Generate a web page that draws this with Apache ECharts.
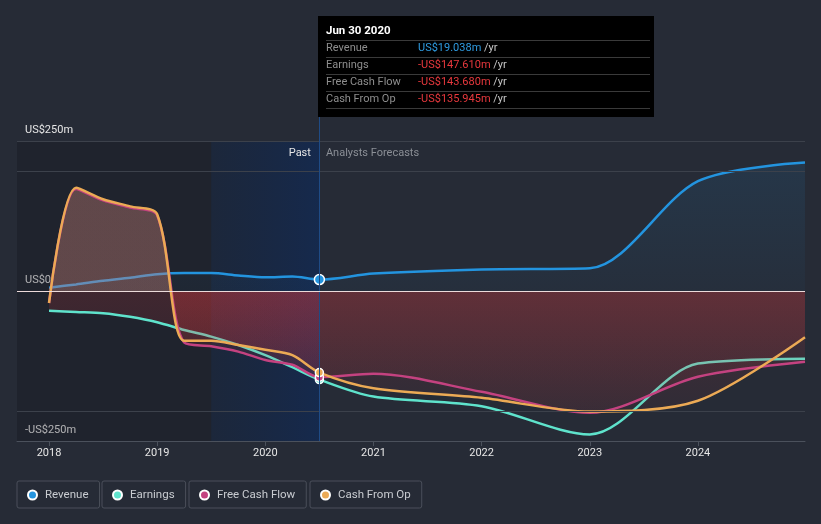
<!DOCTYPE html>
<html><head><meta charset="utf-8">
<script src="https://cdn.jsdelivr.net/npm/echarts@6/dist/echarts.min.js"></script>
<style>html,body{margin:0;padding:0;background:#262b36;}#c{width:821px;height:524px;}</style>
</head><body><div id="c"></div>
<script>
// ---- data (US$ m, decimal years) ----
const dates = [2018, 2018.25, 2018.5, 2018.75, 2019, 2019.25, 2019.5, 2019.75, 2020, 2020.25, 2020.5, 2021, 2022, 2023, 2024, 2024.99];
const revenue = [5.5, 11, 17, 22, 28, 30, 30, 26, 23, 24, 19.038, 29, 36, 38, 183, 214];
const earnings = [-33, -35, -37, -43, -52, -65, -76, -90, -107, -127, -147.61, -176, -192, -239, -121, -113];
const freeCashFlow = [-20, 170, 151, 139, 126, -86, -92, -101, -115, -123, -143.68, -138, -168, -203, -143, -118];
const cashFromOp = [-20, 172, 153, 141, 128, -83, -83, -90, -98, -107, -135.945, -162, -178, -201, -183, -77];
const nowIndex = 10;
const xTickValues = [2018, 2019, 2020, 2021, 2022, 2023, 2024];
const yTickValues = [250, 0, -250];
const yTickLabels = ['US$250m', 'US$0', '-US$250m'];
const gridValues = [250, 200, -200];
const seriesNames = ['Revenue', 'Earnings', 'Free Cash Flow', 'Cash From Op'];
const seriesColors = ['#2394df', '#5fe3cc', '#c44280', '#ecaa55'];
const tipTitle = 'Jun 30 2020';
const tipValues = ['US$19.038m', '-US$147.610m', '-US$143.680m', '-US$135.945m'];
const pastLabel = 'Past';
const forecastLabel = 'Analysts Forecasts';

// ---- layout ----
const xMin = 2017.704, xMax = dates[dates.length - 1];
const yMin = -250, yMax = 291.667;
const gridTopPx = 116, gridBottomPx = 441;
const zeroOff = yMax / (yMax - yMin);
const font = 'Roboto, "Noto Sans", sans-serif';
const G = echarts.graphic.LinearGradient;

function fill(pos, negTop, negBottom) {
  return new G(0, gridTopPx, 0, gridBottomPx, [
    {offset: 0, color: pos}, {offset: zeroOff, color: pos},
    {offset: zeroOff, color: negTop}, {offset: 1, color: negBottom}
  ], true);
}
function pts(vals, n) {
  return vals.slice(0, n === undefined ? vals.length : n).map((v, i) => [dates[i], v]);
}
function lineSeries(idx, vals, extra) {
  return Object.assign({
    name: seriesNames[idx], type: 'line', data: pts(vals), smooth: 0.3,
    symbol: 'circle', showSymbol: true,
    symbolSize: (v, p) => p.dataIndex === nowIndex ? (idx === 0 ? 10 : 8) : 0,
    itemStyle: {color: seriesColors[idx], borderColor: '#ffffff', borderWidth: 1.5},
    lineStyle: {color: seriesColors[idx], width: 2.5},
    silent: true, z: 3
  }, extra || {});
}

const negFill = () => fill('rgba(200,130,120,0.31)', 'rgba(230,58,62,0.24)', 'rgba(230,58,62,0.03)');

const nowX = dates[nowIndex];
const option = {
  backgroundColor: '#262b36',
  animation: false,
  textStyle: {fontFamily: font},
  grid: {left: 17, right: 16, top: gridTopPx, bottom: 524 - gridBottomPx},
  xAxis: {
    type: 'value', min: xMin, max: xMax,
    splitLine: {show: false},
    axisLine: {onZero: false, lineStyle: {color: '#4b515c'}},
    axisTick: {customValues: xTickValues, length: 5, lineStyle: {color: '#4b515c'}},
    axisLabel: {customValues: xTickValues, formatter: v => String(v), color: '#e6e6e6', fontSize: 11, margin: 7, fontFamily: font}
  },
  yAxis: {
    type: 'value', min: yMin, max: yMax,
    splitLine: {show: false}, axisLine: {show: false}, axisTick: {show: false},
    axisLabel: {inside: true, customValues: yTickValues,
      formatter: v => yTickLabels[yTickValues.indexOf(v)],
      color: '#e6e6e6', fontSize: 11, verticalAlign: 'bottom', padding: [0, 0, 5, 0], margin: 8, fontFamily: font}
  },
  legend: seriesNames.map((n, i) => ({
    data: [n], left: [17, 102, 189, 310][i], top: 481,
    icon: 'circle', itemWidth: 9, itemHeight: 9, selectedMode: false,
    padding: [8, 11, 7, 10], borderColor: '#4a4f5a', borderWidth: 1, borderRadius: 2,
    textStyle: {color: '#c9ccd1', fontSize: 11.5, fontFamily: font, padding: [0, 0, 0, 3]}
  })),
  series: [
    {
      type: 'line', data: [[xMin, 0]], symbol: 'none', lineStyle: {width: 0}, silent: true, z: 1,
      markArea: {silent: true, label: {show: false}, data: [
        [{xAxis: xMin, yAxis: 250, itemStyle: {color: 'rgba(10,12,18,0.25)'}}, {xAxis: nowX - 1, yAxis: -250}],
        [{xAxis: nowX - 1, yAxis: 250, itemStyle: {color: new G(0, 0, 1, 0, [
          {offset: 0, color: 'rgba(5,30,70,0.3)'}, {offset: 1, color: 'rgba(5,40,100,0.5)'}])}},
         {xAxis: nowX, yAxis: -250}]
      ]},
      markLine: {silent: true, symbol: ['none', 'none'], label: {show: false},
        lineStyle: {color: '#3c414b', width: 1, type: 'solid'},
        data: gridValues.map(v => ({yAxis: v})).concat([{xAxis: nowX, lineStyle: {color: '#1f4b85', width: 1, type: 'solid'}}])
      },
      markPoint: {silent: true, symbol: 'circle', symbolSize: 1, itemStyle: {color: 'rgba(0,0,0,0)'},
        data: [
          {coord: [nowX, 230], label: {show: true, position: 'left', distance: 8, formatter: pastLabel, color: '#e6e6e6', fontSize: 11, fontFamily: font}},
          {coord: [nowX, 230], label: {show: true, position: 'right', distance: 6, formatter: forecastLabel, color: '#8b8f96', fontSize: 11, fontFamily: font}}
        ]}
    },
    lineSeries(0, revenue, {z: 2, areaStyle: {color: new G(0, 0, 0, 1, [
      {offset: 0, color: 'rgba(35,148,223,0.16)'}, {offset: 1, color: 'rgba(35,148,223,0.05)'}])}}),
    {
      type: 'line', data: pts(earnings, nowIndex + 1), smooth: 0.3, symbol: 'none', silent: true, z: 2,
      lineStyle: {width: 0}, areaStyle: {color: negFill()}
    },
    lineSeries(1, earnings, {z: 2}),
    lineSeries(2, freeCashFlow, {areaStyle: {color: negFill()}}),
    lineSeries(3, cashFromOp, {areaStyle: {color: negFill()}}),
    {
      type: 'line', data: [[xMin, 0]], symbol: 'none', lineStyle: {width: 0}, silent: true, z: 5,
      markLine: {silent: true, symbol: ['none', 'none'], label: {show: false},
        lineStyle: {color: '#ecdada', width: 1, type: 'solid'}, data: [{yAxis: 0}]}
    }
  ],
  graphic: [
    {type: 'rect', left: 318, top: 16, z: 100, shape: {width: 336, height: 101}, style: {fill: '#000000'}},
    {type: 'text', x: 326, y: 31, z: 101, style: {text: tipTitle, fill: '#ffffff', font: 'bold 11.5px ' + font, verticalAlign: 'middle'}}
  ].concat([0, 1, 2, 3, 4].map(i => ({
    type: 'line', z: 101, shape: {x1: 326, y1: 40.5 + 17 * i, x2: 650, y2: 40.5 + 17 * i}, style: {stroke: '#3a3a3a', lineWidth: 1}
  }))).concat(seriesNames.map((n, i) => ({
    type: 'text', x: 326, y: 48.5 + 17 * i, z: 101, style: {text: n, fill: '#8e8e8e', font: '11px ' + font, verticalAlign: 'middle'}
  }))).concat(tipValues.map((v, i) => ({
    type: 'text', x: 418, y: 48.5 + 17 * i, z: 101, style: {
      text: '{v|' + v + '} {u|/yr}', font: '11px ' + font, verticalAlign: 'middle',
      rich: {v: {fill: i === 0 ? '#2f9be0' : '#e8383d', font: '11px ' + font}, u: {fill: '#c8c8c8', font: '11px ' + font}}
    }
  })))
};
const chart = echarts.init(document.getElementById('c'));
chart.setOption(option);
</script></body></html>
